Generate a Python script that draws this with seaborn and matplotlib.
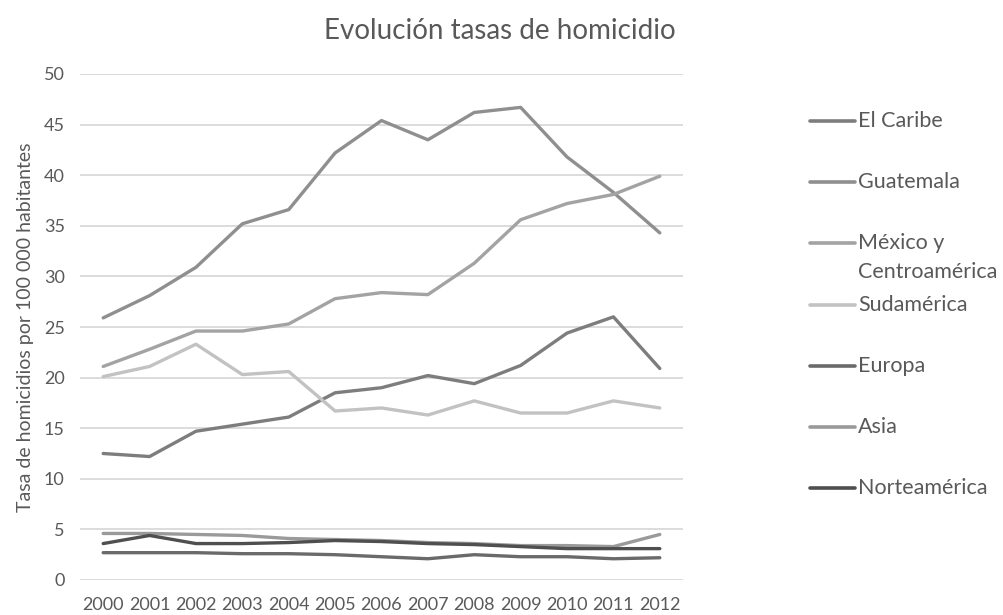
import matplotlib
matplotlib.use("Agg")
import matplotlib.pyplot as plt
from matplotlib.lines import Line2D
import seaborn as sns
import pandas as pd

# Homicide rates per 100 000 inhabitants, 2000-2012
years = list(range(2000, 2013))
el_caribe = [12.5, 12.2, 14.7, 15.4, 16.1, 18.5, 19.0, 20.2, 19.4, 21.2, 24.4, 26.0, 20.9]
guatemala = [25.9, 28.1, 30.9, 35.2, 36.6, 42.2, 45.4, 43.5, 46.2, 46.7, 41.8, 38.3, 34.3]
mexico_ca = [21.1, 22.8, 24.6, 24.6, 25.3, 27.8, 28.4, 28.2, 31.3, 35.6, 37.2, 38.1, 39.9]
sudamerica = [20.1, 21.1, 23.3, 20.3, 20.6, 16.7, 17.0, 16.3, 17.7, 16.5, 16.5, 17.7, 17.0]
europa = [2.7, 2.7, 2.7, 2.6, 2.6, 2.5, 2.3, 2.1, 2.5, 2.3, 2.3, 2.1, 2.2]
asia = [4.6, 4.6, 4.5, 4.4, 4.1, 4.0, 3.9, 3.7, 3.6, 3.4, 3.4, 3.3, 4.5]
norteamerica = [3.6, 4.4, 3.6, 3.6, 3.7, 3.9, 3.8, 3.6, 3.5, 3.3, 3.1, 3.1, 3.1]

series_names = ["El Caribe", "Guatemala", "México y\nCentroamérica", "Sudamérica",
                "Europa", "Asia", "Norteamérica"]
series_values = [el_caribe, guatemala, mexico_ca, sudamerica, europa, asia, norteamerica]
series_colors = ["#7d7d7d", "#8f8f8f", "#a3a3a3", "#c2c2c2", "#6a6a6a", "#9a9a9a", "#4f4f4f"]

title = "Evolución tasas de homicidio"
y_label = "Tasa de homicidios por 100 000 habitantes"
y_ticks = [0, 5, 10, 15, 20, 25, 30, 35, 40, 45, 50]

rows = []
for name, vals in zip(series_names, series_values):
    for yr, v in zip(years, vals):
        rows.append({"Año": yr, "Tasa": v, "Región": name})
df = pd.DataFrame(rows)

sns.set_theme(style="white")
plt.rcParams["font.family"] = ["Lato", "DejaVu Sans"]
text_color = "#595959"

fig = plt.figure(figsize=(10.04, 6.15), dpi=100)
ax = fig.add_axes([80 / 1004, 35 / 615, 603 / 1004, 506 / 615])

sns.lineplot(data=df, x="Año", y="Tasa", hue="Región", hue_order=series_names,
             palette=dict(zip(series_names, series_colors)), linewidth=2.4,
             sort=False, legend=False, ax=ax)

ax.set_xlim(1999.5, 2012.5)
ax.set_ylim(0, 50)
ax.set_xticks(years)
ax.set_xticklabels([str(y) for y in years])
ax.set_yticks(y_ticks)
ax.grid(axis="y", color="#d9d9d9", linewidth=1.3)
ax.grid(axis="x", visible=False)
for s in ax.spines.values():
    s.set_visible(False)
ax.tick_params(axis="both", length=0, labelsize=13, colors=text_color)
ax.tick_params(axis="y", pad=11)
ax.tick_params(axis="x", pad=12)
ax.set_xlabel("")
ax.set_ylabel(y_label, fontsize=14, color=text_color, labelpad=7)

fig.text(500 / 1004, 1 - 31 / 615, title, ha="center", va="center",
         fontsize=20, color=text_color)

# Legend on the right, one slot per region
slot_top = 121
slot_step = 61.2
legend_size = 15.5
for i, (name, col) in enumerate(zip(series_names, series_colors)):
    yc = slot_top + i * slot_step
    fy = 1 - yc / 615
    fig.add_artist(Line2D([810 / 1004, 855 / 1004], [fy, fy], color=col,
                          linewidth=2.6, transform=fig.transFigure))
    lines = name.split("\n")
    for j, part in enumerate(lines):
        fig.text(858 / 1004, 1 - (yc + 29 * j) / 615, part, ha="left", va="center",
                 fontsize=legend_size, color=text_color)

fig.savefig("out.png", dpi=100, facecolor="white")
